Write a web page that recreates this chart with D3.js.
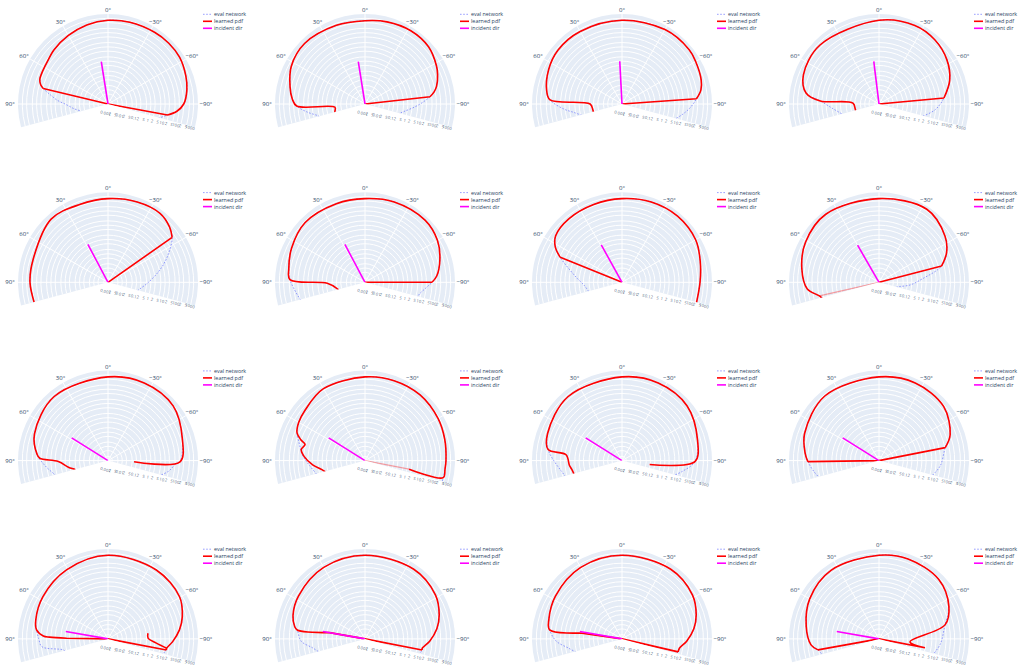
<!DOCTYPE html>
<html>
<head>
<meta charset="utf-8">
<script src="https://cdn.jsdelivr.net/npm/d3@7"></script>
<style>
  html, body { margin: 0; padding: 0; background: #fff; }
  svg { display: block; }
  text { font-family: "Open Sans", "Noto Sans", sans-serif; fill: #2a3f5f; }
</style>
</head>
<body>
<svg id="chart" width="1018" height="666"></svg>
<script>
// ---- data ---------------------------------------------------------------
const seriesNames = ["eval network", "learned pdf", "incident dir"];
const angleTicks = [-90, -60, -30, 0, 30, 60, 90];
const radialTicks = [0.001, 0.002, 0.005, 0.01, 0.02, 0.05, 0.1, 0.2, 0.5, 1, 2, 5,
                     10, 20, 50, 100, 200, 500, 1000];
const radialRange = [0.001, 2000];
const sectorDeg = [-105, 105];

// incident direction per panel (degrees) and the length it is drawn with
const incidentDeg = [9, 9, 3, 7, 28, 28, 29, 30, 58, 58, 58, 58, 80, 80, 80, 80];
const incidentValue = 1;

// learned pdf per panel: [angle in degrees, pdf value]; null breaks the line
const learnedPdf = [
  [[-102,1e-4],[-100.5,17],[-96,71],[-90,200],[-80,405],[-70,625],[-57,966],[-45,1040],[-33,966],[-15,836],[0,723],[15,541],[30,350],[45,226],[56,147],[65,130],[70,120],[74,80],[76.5,46],[78,1e-4]],
  [[-85,1e-4],[-83.6,38],[-80,82],[-76,147],[-68,303],[-62,468],[-48,966],[-32,1117],[-15,900],[0,672],[20,723],[45,966],[63,625],[77,243],[86,127],[91.7,61],[96.3,0.13],[104.4,0.15],[107,0.15]],
  [[-88,1e-4],[-86,169],[-80,405],[-73,625],[-60,900],[-51,1117],[-30,1040],[0,723],[30,723],[50,723],[65,468],[80,226],[86.8,110],[90,0.17],[101.7,0.12],[107,0.12]],
  [[-86,1e-4],[-84.7,37],[-71.3,169],[-57,468],[-41,900],[-24.5,1100],[0,723],[45,690],[69,468],[81.4,147],[87,13],[88,0.067],[101.8,0.05],[107,0.05]],
  [[-56.5,1e-4],[-55,303],[-48,625],[-37,1117],[-20,966],[0,723],[20,625],[42,900],[73,303],[90,290],[107,226]],
  [[-92,1e-4],[-90,49],[-85,110],[-73,303],[-60,723],[-44,1117],[-20,966],[0,723],[20,723],[45,836],[65,468],[80,262],[88,182],[91.5,0.44],[104.5,0.09],[107,0.085]],
  [[-107,262],[-90,290],[-75,468],[-60,900],[-40,1117],[-20,966],[0,723],[20,625],[40,625],[55,468],[62,196],[68,46],[69.5,1e-4]],
  [[-77,1e-4],[-75.4,34],[-66.3,147],[-54.9,441],[-33.2,1291],[0,723],[38,1117],[61.4,723],[80.2,303],[95.3,110],[102.9,19],[107,12]],
  [[-92.5,0.067],[-91,110],[-74,262],[-50,900],[-25,1000],[0,723],[40,723],[70,300],[85,96],[88,60],[91,3],[100,0.6],[105,0.25],[107,0.25]],
  [[-101,1.4],[-102.3,400],[-96,430],[-90,468],[-75,600],[-60,800],[-40,1000],[-20,900],[0,723],[30,650],[50,303],[60,226],[67.6,141],[72,53],[75,22],[80,34],[86,19],[95,4.5],[101.8,1.2],[107,0.68]],
  [[-98,0.09],[-90.8,127],[-75,300],[-50,900],[-25,1000],[0,723],[40,723],[70,350],[81.5,169],[84,8.7],[95,5],[100,3.7],[107,3]],
  [[-80.5,1e-4],[-78.9,53],[-70,200],[-50,800],[-25,1000],[0,723],[40,800],[70,350],[84,160],[90.8,96],[92,1e-4]],
  [[-103,1e-4],[-100.7,14.4],[-99,14.4],[-92.4,34],[-82.8,110],[-73.3,270],[-59.5,650],[-35,780],[0,723],[31,437],[57,270],[75.3,169],[82.8,110],[87.4,34],[88.3,12.4],[89,0.79],[90,1e-4],[-82,null],[-82,0.67],[-89,0.64],[-95,2.5],[-99,14.4]],
  [[-103,1e-4],[-101,11.7],[-99,11.7],[-92,34],[-82,120],[-72,290],[-58,650],[-35,900],[0,723],[30,600],[57,350],[72,200],[80,100],[82.5,61],[80,0.33],[79,1e-4]],
  [[-104.5,1e-4],[-103,10.8],[-99,12],[-92,34],[-82,120],[-72,290],[-58,650],[-35,900],[0,723],[30,600],[57,350],[75,200],[82.9,127],[81.9,0.9],[81,1e-4]],
  [[-102.5,1e-4],[-101,1.9],[-95.5,0.15],[-78,53],[-65,250],[-45,800],[-20,900],[0,723],[35,723],[60,400],[80,150],[95,60],[100.2,22],[102,1e-4]]
];

// faint learned-pdf strokes running into the pole: [panel, angle, pdf value]
const faintLinks = [[7, 102.9, 19], [9, -101, 1.4]];

// network evaluation per panel: [angle in degrees, pdf value]
const evalNetwork = [
  [[-106,4.5],[-100.5,17],[-96,71],[-90,200],[-80,405],[-70,625],[-57,966],[-45,1040],[-33,966],[-15,836],[0,723],[15,541],[30,350],[45,226],[56,147],[65,130],[70,120],[74,80],[76.5,46],[81,12],[86,3.4],[91,0.8],[98,0.25],[104,0.1],[106,0.09]],
  [[-107,0.25],[-100,0.7],[-93,3.4],[-88,12],[-83.6,38],[-80,82],[-76,147],[-68,303],[-62,468],[-48,966],[-32,1117],[-15,900],[0,672],[20,723],[45,966],[63,625],[77,243],[86,127],[91.7,61],[98,12],[104.4,2.35],[107,1.9]],
  [[-107,6],[-100,19],[-93,61],[-86,169],[-80,405],[-73,625],[-60,900],[-51,1117],[-30,1040],[0,723],[30,723],[50,723],[65,468],[80,226],[86.8,110],[95,12],[100,2.6],[107,0.7]],
  [[-108,1.06],[-96,8.7],[-84.7,37],[-71.3,169],[-57,468],[-41,900],[-24.5,1100],[0,723],[45,690],[69,468],[81.4,147],[87,13],[95,2],[107,0.4]],
  [[-106,0.14],[-102,0.185],[-90,0.68],[-76,6],[-65,46],[-55,303],[-48,625],[-37,1117],[-20,966],[0,723],[20,625],[42,900],[73,303],[90,290],[107,226]],
  [[-107,6],[-102,8],[-95,20],[-90,49],[-85,110],[-73,303],[-60,723],[-44,1117],[-20,966],[0,723],[20,723],[45,836],[65,468],[80,262],[88,182],[95,100],[104.7,49],[107,40]],
  [[-107,262],[-90,290],[-75,468],[-60,900],[-40,1117],[-20,966],[0,723],[20,625],[40,625],[55,468],[62,196],[68,46],[75,8],[85,1.4],[95,0.44],[107,0.25]],
  [[-106,0.018],[-102,0.028],[-95,0.15],[-85.6,1.06],[-75.4,34],[-66.3,147],[-54.9,441],[-33.2,1291],[0,723],[38,1117],[61.4,723],[80.2,303],[95.3,110],[102.9,19],[107,12]],
  [[-107,5],[-100,20],[-92.5,60],[-91,110],[-74,262],[-50,900],[-25,1000],[0,723],[40,723],[70,300],[85,96],[95,25],[105,7],[107,6]],
  [[-107,420],[-102.3,400],[-96,430],[-90,468],[-75,600],[-60,800],[-40,1000],[-20,900],[0,723],[30,650],[50,303],[60,226],[67.6,141],[75,60],[85,25],[95,8],[107,3]],
  [[-107,5],[-100,20],[-90.8,127],[-75,300],[-50,900],[-25,1000],[0,723],[40,723],[70,350],[81.5,169],[90,60],[100,20],[107,12]],
  [[-108,6],[-95,20],[-78.9,53],[-70,200],[-50,800],[-25,1000],[0,723],[40,800],[70,350],[84,160],[90.8,96],[100,40],[107,20]],
  [[-107,8],[-100.7,14.4],[-99,14.4],[-92.4,34],[-82.8,110],[-73.3,270],[-59.5,650],[-35,780],[0,723],[31,437],[57,270],[75.3,169],[82.8,110],[90,70],[96.7,46],[103.7,1.7],[107,1.2]],
  [[-107,8],[-101,11.7],[-99,11.7],[-92,34],[-82,120],[-72,290],[-58,650],[-35,900],[0,723],[30,600],[57,350],[72,200],[80,100],[82.5,61],[92,30],[100,5],[107,2]],
  [[-107,8],[-103,10.8],[-99,12],[-92,34],[-82,120],[-72,290],[-58,650],[-35,900],[0,723],[30,600],[57,350],[75,200],[82.9,127],[92,40],[100,6],[107,2]],
  [[-107,8],[-95,20],[-78,53],[-65,250],[-45,800],[-20,900],[0,723],[35,723],[60,400],[80,150],[95,60],[100.2,22],[107,12]]
];

// ---- layout --------------------------------------------------------------
const ncols = 4;
const origin = { x: 108, y: 104 };
const step = { x: 257, y: 178.3 };
const R = 90;
const radialLabelDeg = -99.7;          // direction the radial tick labels run along
const radialLabelShift = [-2.5, 9.2];  // offset of that row from the pole

const colors = { eval: "#3a46ff", learned: "#ff0000", incident: "#ff00ff" };
const bg = "#e5ecf6";

const rScale = d3.scaleLog().domain(radialRange).range([0, R]).clamp(true);
const rad = d => d * Math.PI / 180;
// angles grow counter-clockwise from the top; d3 radial angles grow clockwise
const toAngle = deg => -rad(deg);
const polar = (deg, r) => [-r * Math.sin(rad(deg)), -r * Math.cos(rad(deg))];

const svg = d3.select("#chart");

const sectorPath = d3.arc()
  .innerRadius(0).outerRadius(R)
  .startAngle(rad(sectorDeg[0])).endAngle(rad(sectorDeg[1]))();

const smooth = d3.lineRadial()
  .angle(d => toAngle(d[0])).radius(d => rScale(d[1]))
  .curve(d3.curveCatmullRom.alpha(0.5));
const straight = d3.lineRadial()
  .angle(d => toAngle(d[0])).radius(d => rScale(d[1]));

// smooth runs for in-range samples, straight strokes to the pole for samples below range
function tracePath(points) {
  const lo = radialRange[0];
  const parts = [];
  let run = [];
  const flush = () => { if (run.length > 1) parts.push(smooth(run)); run = []; };
  points.forEach(p => {
    if (p[1] !== null && p[1] >= lo) run.push(p);
    else flush();
  });
  flush();
  for (let i = 1; i < points.length; i++) {
    const a = points[i - 1], b = points[i];
    if (a[1] === null || b[1] === null) continue;
    if (a[1] < lo || b[1] < lo) parts.push(straight([a, b]));
  }
  return parts.join("");
}

function arcAt(r) {
  const p = d3.path();
  // canvas angle convention: 0 at +x, clockwise on screen
  const a0 = rad(-90 - sectorDeg[0]), a1 = rad(-90 - sectorDeg[1]);
  p.arc(0, 0, r, a0, a1, true);
  return p.toString();
}

function tickText(v) {
  const e = Math.log10(v);
  if (Math.abs(e - Math.round(e)) < 1e-9) return d3.format("~g")(v);
  return String(Math.round(v / Math.pow(10, Math.floor(e))));
}

const defs = svg.append("defs");

learnedPdf.forEach((learned, i) => {
  const col = i % ncols, row = Math.floor(i / ncols);
  const cx = origin.x + col * step.x, cy = origin.y + row * step.y;
  const g = svg.append("g").attr("transform", `translate(${cx},${cy})`);

  defs.append("clipPath").attr("id", `sector-${i}`)
    .append("path").attr("d", sectorPath);

  // background + grid
  g.append("path").attr("d", sectorPath).attr("fill", bg);
  radialTicks.slice(1).forEach(t => {
    g.append("path").attr("d", arcAt(rScale(t)))
      .attr("fill", "none").attr("stroke", "#fff").attr("stroke-width", 1);
  });
  angleTicks.forEach(a => {
    const [x, y] = polar(a, R);
    g.append("line").attr("x1", 0).attr("y1", 0).attr("x2", x).attr("y2", y)
      .attr("stroke", "#fff").attr("stroke-width", 1);
  });

  // angular tick labels
  angleTicks.forEach(a => {
    const s = Math.sin(rad(a));
    const [x, y] = polar(a, R + 4 + 4 * s * s);
    g.append("text").attr("x", x).attr("y", y)
      .attr("text-anchor", "middle").attr("dominant-baseline", "central")
      .attr("font-size", 6)
      .text((a < 0 ? "\u2212" + Math.abs(a) : a) + "\u00b0");
  });

  // radial tick labels below the lower-right edge of the sector
  radialTicks.forEach(t => {
    const [x, y] = polar(radialLabelDeg, rScale(t));
    g.append("text")
      .attr("transform", `translate(${x + radialLabelShift[0]},${y + radialLabelShift[1]}) rotate(${-(90 + sectorDeg[0])})`)
      .attr("text-anchor", "middle").attr("dominant-baseline", "central")
      .attr("font-size", 4.2).attr("fill-opacity", 0.8)
      .text(tickText(t));
  });

  // traces
  const plot = g.append("g").attr("clip-path", `url(#sector-${i})`);
  plot.append("path").attr("d", tracePath(evalNetwork[i]))
    .attr("fill", "none").attr("stroke", colors.eval)
    .attr("stroke-width", 0.8).attr("stroke-dasharray", "1.6,1.6")
    .attr("stroke-opacity", 0.65);
  faintLinks.filter(f => f[0] === i).forEach(f => {
    plot.append("path").attr("d", straight([[f[1], radialRange[0]], [f[1], f[2]]]))
      .attr("fill", "none").attr("stroke", colors.learned)
      .attr("stroke-width", 1.3).attr("stroke-opacity", 0.35);
  });
  plot.append("path").attr("d", tracePath(learned))
    .attr("fill", "none").attr("stroke", colors.learned)
    .attr("stroke-width", 1.6).attr("stroke-linejoin", "round");
  plot.append("path")
    .attr("d", straight([[incidentDeg[i], radialRange[0]], [incidentDeg[i], incidentValue]]))
    .attr("fill", "none").attr("stroke", colors.incident).attr("stroke-width", 1.6);

  // legend
  const lg = g.append("g").attr("transform", `translate(${R + 5},${-R + 0.3})`);
  seriesNames.forEach((name, k) => {
    const y = k * 7;
    const ln = lg.append("line").attr("x1", 0).attr("x2", 9).attr("y1", y).attr("y2", y);
    if (k === 0) ln.attr("stroke", colors.eval).attr("stroke-width", 0.8)
      .attr("stroke-dasharray", "1.6,1.6").attr("stroke-opacity", 0.65);
    if (k === 1) ln.attr("stroke", colors.learned).attr("stroke-width", 1.6);
    if (k === 2) ln.attr("stroke", colors.incident).attr("stroke-width", 1.6);
    lg.append("text").attr("x", 11).attr("y", y)
      .attr("dominant-baseline", "central").attr("font-size", 5.4)
      .text(name);
  });
});
</script>
</body>
</html>
